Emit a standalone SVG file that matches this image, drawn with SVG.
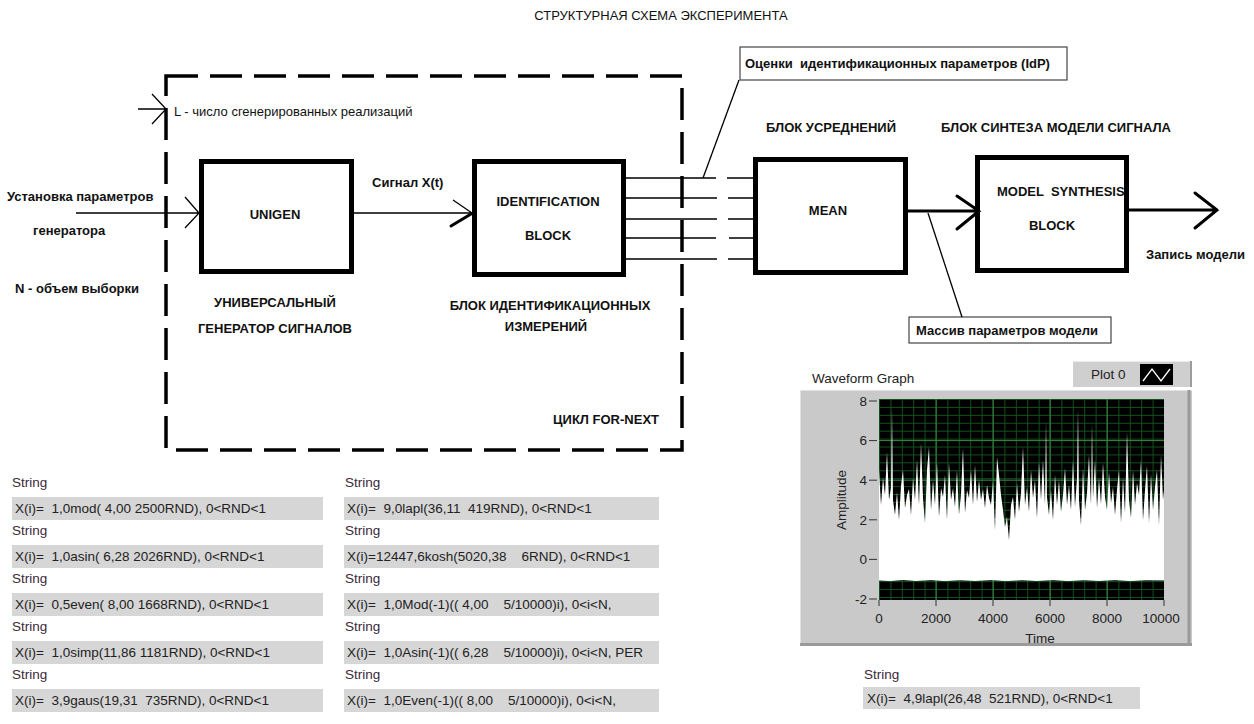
<svg xmlns="http://www.w3.org/2000/svg" width="1254" height="724" viewBox="0 0 1254 724">
<style>
text{font-family:"Liberation Sans",Arial,sans-serif;fill:#111;white-space:pre}
.ttl{font-size:13px}
.b{font-size:13px;font-weight:bold}
.r{font-size:13px}
.blk{fill:#fff;stroke:#000;stroke-width:5}
.ln{stroke:#000;stroke-width:1.3;fill:none}
.th{stroke:#000;stroke-width:3;fill:none;stroke-linecap:round;stroke-linejoin:miter}
.cb{fill:#fff;stroke:#444;stroke-width:1.2}
.lbl{font-size:13.5px;fill:#3a2a3a}
.sbox{fill:#d6d6d6}
.stx{font-size:13.5px;fill:#222}
.ax{font-size:13.5px;fill:#222}
.mg{stroke:#3a8a45;stroke-width:1}
</style>
<defs>
<pattern id="minor" patternUnits="userSpaceOnUse" x="879" y="399" width="11.4" height="7.92">
<path d="M0.5,0 V7.92 M0,0.5 H11.4" stroke="#12501e" stroke-width="1" fill="none"/>
</pattern>
</defs>
<rect width="1254" height="724" fill="#fff"/>

<g id="title"><text class="ttl" x="661" y="20" text-anchor="middle">СТРУКТУРНАЯ СХЕМА ЭКСПЕРИМЕНТА</text></g>

<g id="loop">
<path d="M166,76 H682 V450 H166 Z" fill="none" stroke="#000" stroke-width="3.5" stroke-dasharray="32 12"/>
<text class="r" x="174" y="116">L - число сгенерированных реализаций</text>
<text class="b" x="659" y="424" text-anchor="end">ЦИКЛ FOR-NEXT</text>
</g>

<g id="inputs">
<text class="b" x="7" y="201">Установка параметров</text>
<text class="b" x="33" y="235">генератора</text>
<text class="b" x="15" y="293">N - объем выборки</text>
</g>

<g id="unigen">
<rect class="blk" x="201.5" y="161.5" width="150" height="110"/>
<text class="b" x="275" y="219" text-anchor="middle">UNIGEN</text>
<text class="b" x="275" y="307" text-anchor="middle">УНИВЕРСАЛЬНЫЙ</text>
<text class="b" x="275" y="333" text-anchor="middle">ГЕНЕРАТОР СИГНАЛОВ</text>
</g>

<g id="signal-label"><text class="b" x="372" y="187">Сигнал X(t)</text></g>

<g id="ident">
<rect class="blk" x="474.5" y="161.5" width="149" height="113"/>
<text class="b" x="548" y="206" text-anchor="middle">IDENTIFICATION</text>
<text class="b" x="548" y="240" text-anchor="middle">BLOCK</text>
<text class="b" x="550" y="310" text-anchor="middle">БЛОК ИДЕНТИФИКАЦИОННЫХ</text>
<text class="b" x="546" y="331" text-anchor="middle">ИЗМЕРЕНИЙ</text>
</g>

<g id="idp-callout">
<rect class="cb" x="740" y="47" width="327" height="33"/>
<text class="b" x="745" y="68">Оценки  идентификационных параметров (IdP)</text>
</g>

<g id="mean">
<text class="b" x="766" y="132">БЛОК УСРЕДНЕНИЙ</text>
<rect class="blk" x="755.5" y="159.5" width="150" height="113"/>
<text class="b" x="828" y="215" text-anchor="middle">MEAN</text>
</g>

<g id="model">
<text class="b" x="941" y="132">БЛОК СИНТЕЗА МОДЕЛИ СИГНАЛА</text>
<rect class="blk" x="977.5" y="157.5" width="149" height="113"/>
<text class="b" x="997" y="196">MODEL  SYNTHESIS</text>
<text class="b" x="1052" y="230" text-anchor="middle">BLOCK</text>
<text class="b" x="1146" y="259">Запись модели</text>
</g>

<g id="array-callout">
<rect class="cb" x="909" y="317" width="202" height="26"/>
<text class="b" x="916" y="335">Массив параметров модели</text>
</g>

<g id="connectors">
<path class="ln" d="M138,109 H166 M152,94 L166,109 L152,124"/>
<path class="ln" d="M76,213 H199 M185,197 L199,213 L185,228"/>
<path class="ln" d="M354,213 H472 M453,200 L472,213"/>
<path class="th" d="M451,226 L471,214"/>
<path class="ln" d="M626,178 H716 M727,178 H753 M626,198 H717 M728,198 H753 M626,219 H717 M728,219 H753 M626,238 H716 M729,238 H753 M626,259 H717 M728,259 H753"/>
<path class="ln" d="M739,80 L703,178"/>
<path class="th" d="M908,211 H979 M957,196 L979,211 L957,229"/>
<path class="th" d="M1129,210 H1217 M1195,193 L1217,210 L1195,228"/>
<path class="ln" d="M928,213 L962,317"/>
</g>

<g id="waveform-graph">
<text class="ax" x="812" y="383">Waveform Graph</text>
<rect x="1073" y="361" width="119" height="26" fill="#cfcfcf"/>
<path d="M1073,361.5 H1192" stroke="#ececec" stroke-width="1"/>
<path d="M1191,361 V387" stroke="#9c9c9c" stroke-width="2"/>
<text class="ax" x="1091" y="379">Plot 0</text>
<rect x="1140" y="364" width="33" height="21" fill="#000"/>
<polyline points="1143,381 1152,369 1161,381 1170,369" fill="none" stroke="#fff" stroke-width="1.3"/>
<rect x="800" y="390" width="392" height="256" fill="#c9c9c9"/>
<path d="M800,390.5 H1192 M800.5,390 V646" stroke="#e2e2e2" stroke-width="1"/>
<path d="M1189,390 V646 M800,644.5 H1192" stroke="#9a9a9a" stroke-width="3"/>
<rect x="879" y="399" width="285" height="201" fill="#000"/>
<rect x="879" y="399" width="285" height="201" fill="url(#minor)"/>
<path class="mg" d="M936,399 V600 M993,399 V600 M1050,399 V600 M1107,399 V600 M879,440.6 H1164 M879,480.2 H1164 M879,519.8 H1164 M879,559.4 H1164"/>
<polygon fill="#fff" points="879,580 879,470 881,505 883,478 885,495 887,452 889,500 891,488 892,408 893,500 895,515 897,492 899,520 901,486 903,470 905,508 907,495 909,489 911,515 913,478 915,500 917,460 919,505 921,443 923,498 925,523 927,470 929,447 931,510 933,480 935,505 937,462 939,517 941,488 943,497 945,475 947,520 949,463 951,500 953,488 955,507 957,470 959,515 961,494 963,448 965,513 967,490 969,498 971,470 973,505 975,465 977,502 979,480 981,500 983,489 985,508 987,485 989,498 991,505 993,482 995,530 997,457 999,475 1001,495 1003,510 1005,527 1007,517 1009,540 1011,505 1013,497 1015,520 1017,483 1019,512 1021,493 1023,447 1025,505 1027,487 1029,512 1031,470 1033,498 1035,480 1037,518 1039,462 1041,500 1043,460 1045,505 1046,421 1047,497 1049,515 1051,490 1053,520 1055,475 1057,505 1059,480 1061,512 1063,495 1065,468 1067,505 1069,485 1071,510 1073,460 1075,507 1077,478 1078,409 1079,500 1081,525 1083,468 1085,510 1087,493 1089,455 1091,505 1092,423 1093,498 1095,460 1097,508 1099,478 1101,504 1103,463 1105,497 1107,510 1109,472 1111,503 1113,487 1115,515 1117,490 1119,470 1121,523 1123,478 1125,513 1127,432 1129,500 1131,518 1133,470 1135,505 1137,483 1139,495 1141,460 1143,520 1145,490 1147,466 1149,523 1151,474 1153,510 1155,487 1157,470 1159,525 1161,455 1163,500 1164,490 1164,580"/>
<polyline fill="none" stroke="#fff" stroke-width="1" points="879,580 890,580.6 903,579.6 916,580.5 931,579.7 945,580.6 960,579.8 975,580.5 991,579.7 1006,580.6 1022,579.8 1037,580.5 1053,579.7 1068,580.6 1084,579.8 1099,580.5 1115,579.7 1130,580.6 1146,579.8 1164,580"/>
<path d="M869,401 H877 M869,440.6 H877 M869,480.2 H877 M869,519.8 H877 M869,559.4 H877 M869,599 H877 M879,600 V606 M936,600 V606 M993,600 V606 M1050,600 V606 M1107,600 V606 M1164,600 V606" stroke="#333" stroke-width="1"/>
<g text-anchor="end">
<text class="ax" x="867" y="406">8</text>
<text class="ax" x="867" y="445">6</text>
<text class="ax" x="867" y="485">4</text>
<text class="ax" x="867" y="525">2</text>
<text class="ax" x="867" y="564">0</text>
<text class="ax" x="867" y="604">-2</text>
</g>
<g text-anchor="middle">
<text class="ax" x="879" y="623">0</text>
<text class="ax" x="936" y="623">2000</text>
<text class="ax" x="993" y="623">4000</text>
<text class="ax" x="1050" y="623">6000</text>
<text class="ax" x="1107" y="623">8000</text>
<text class="ax" x="1161" y="623">10000</text>
<text class="ax" x="1040" y="643">Time</text>
<text class="ax" x="0" y="0" transform="translate(846,500) rotate(-90)">Amplitude</text>
</g>
</g>

<g id="strings-left">
<text class="lbl" x="12" y="487">String</text>
<rect class="sbox" x="12" y="497" width="311" height="23"/>
<text class="stx" x="15" y="513">X(i)=  1,0mod( 4,00 2500RND), 0&lt;RND&lt;1</text>
<text class="lbl" x="12" y="535">String</text>
<rect class="sbox" x="12" y="545" width="311" height="23"/>
<text class="stx" x="15" y="561">X(i)=  1,0asin( 6,28 2026RND), 0&lt;RND&lt;1</text>
<text class="lbl" x="12" y="583">String</text>
<rect class="sbox" x="12" y="593" width="311" height="23"/>
<text class="stx" x="15" y="609">X(i)=  0,5even( 8,00 1668RND), 0&lt;RND&lt;1</text>
<text class="lbl" x="12" y="631">String</text>
<rect class="sbox" x="12" y="641" width="311" height="23"/>
<text class="stx" x="15" y="657">X(i)=  1,0simp(11,86 1181RND), 0&lt;RND&lt;1</text>
<text class="lbl" x="12" y="679">String</text>
<rect class="sbox" x="12" y="689" width="311" height="23"/>
<text class="stx" x="15" y="705">X(i)=  3,9gaus(19,31  735RND), 0&lt;RND&lt;1</text>
</g>

<g id="strings-right">
<text class="lbl" x="345" y="487">String</text>
<rect class="sbox" x="344" y="497" width="315" height="23"/>
<text class="stx" x="347" y="513">X(i)=  9,0lapl(36,11  419RND), 0&lt;RND&lt;1</text>
<text class="lbl" x="345" y="535">String</text>
<rect class="sbox" x="344" y="545" width="315" height="23"/>
<text class="stx" x="347" y="561">X(i)=12447,6kosh(5020,38    6RND), 0&lt;RND&lt;1</text>
<text class="lbl" x="345" y="583">String</text>
<rect class="sbox" x="344" y="593" width="315" height="23"/>
<text class="stx" x="347" y="609">X(i)=  1,0Mod(-1)(( 4,00    5/10000)i), 0&lt;i&lt;N,</text>
<text class="lbl" x="345" y="631">String</text>
<rect class="sbox" x="344" y="641" width="315" height="23"/>
<text class="stx" x="347" y="657">X(i)=  1,0Asin(-1)(( 6,28    5/10000)i), 0&lt;i&lt;N, PER</text>
<text class="lbl" x="345" y="679">String</text>
<rect class="sbox" x="344" y="689" width="315" height="23"/>
<text class="stx" x="347" y="705">X(i)=  1,0Even(-1)(( 8,00    5/10000)i), 0&lt;i&lt;N,</text>
</g>

<g id="string-result">
<text class="lbl" x="864" y="679">String</text>
<rect class="sbox" x="863" y="687" width="277" height="22"/>
<text class="stx" x="867" y="703">X(i)=  4,9lapl(26,48  521RND), 0&lt;RND&lt;1</text>
</g>
</svg>
